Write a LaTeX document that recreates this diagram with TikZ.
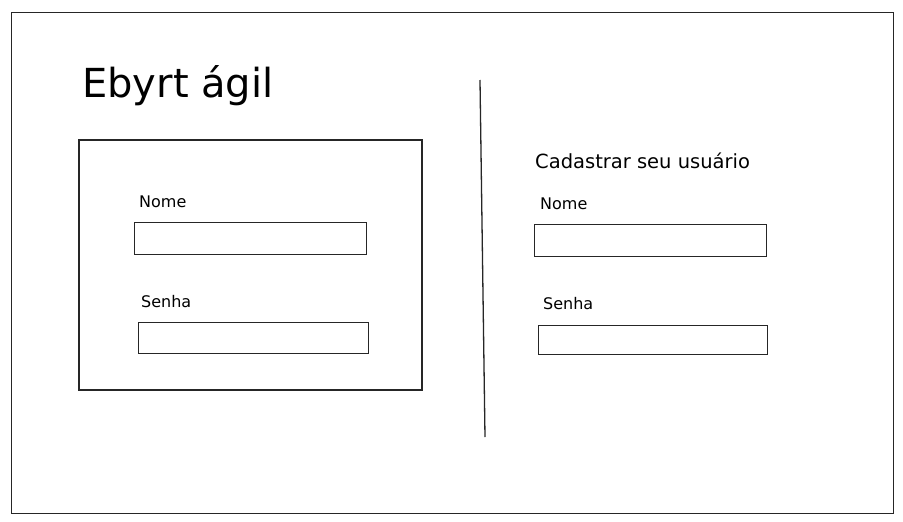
\documentclass[tikz,border=0pt]{standalone}
\usepackage{fontspec}
\setmainfont{DejaVu Sans}
\begin{document}
\begin{tikzpicture}[x=1pt,y=-1pt,
  frame/.style={draw=black!85,line width=1pt},
  panel/.style={draw=black!85,line width=1.3pt},
  field/.style={draw=black!85,line width=1.4pt},
  lbl/.style={anchor=west,inner sep=0pt,font=\fontsize{16}{19}\selectfont},
]
\useasboundingbox (0,0) rectangle (903,522);
\fill[white] (0,0) rectangle (903,522);
\draw[frame] (11,12) rectangle (893,513);
\node[anchor=west,inner sep=0pt,font=\fontsize{40}{46}\selectfont] (title) at (82,86) {Ebyrt ágil};
\draw[panel] (79,140) rectangle (422,390);
\node[lbl] (lnome) at (139,202) {Nome};
\node[field,minimum width=232pt,minimum height=32pt,anchor=north west,inner sep=0pt] (lnomebox) at (134,222) {};
\node[lbl] (lsenha) at (141,302) {Senha};
\node[field,minimum width=230pt,minimum height=31pt,anchor=north west,inner sep=0pt] (lsenhabox) at (138,322) {};
\coordinate (dtop) at (480,80);
\coordinate (dbot) at (485,437);
\draw[panel] (dtop) -- (dbot);
\node[lbl,font=\fontsize{19.5}{23}\selectfont] (cad) at (535,161) {Cadastrar seu usuário};
\node[lbl] (rnome) at (540,204) {Nome};
\node[field,minimum width=232pt,minimum height=32pt,anchor=north west,inner sep=0pt] (rnomebox) at (534,224) {};
\node[lbl] (rsenha) at (543,304) {Senha};
\node[field,minimum width=229pt,minimum height=29pt,anchor=north west,inner sep=0pt] (rsenhabox) at (538,325) {};
\end{tikzpicture}
\end{document}
